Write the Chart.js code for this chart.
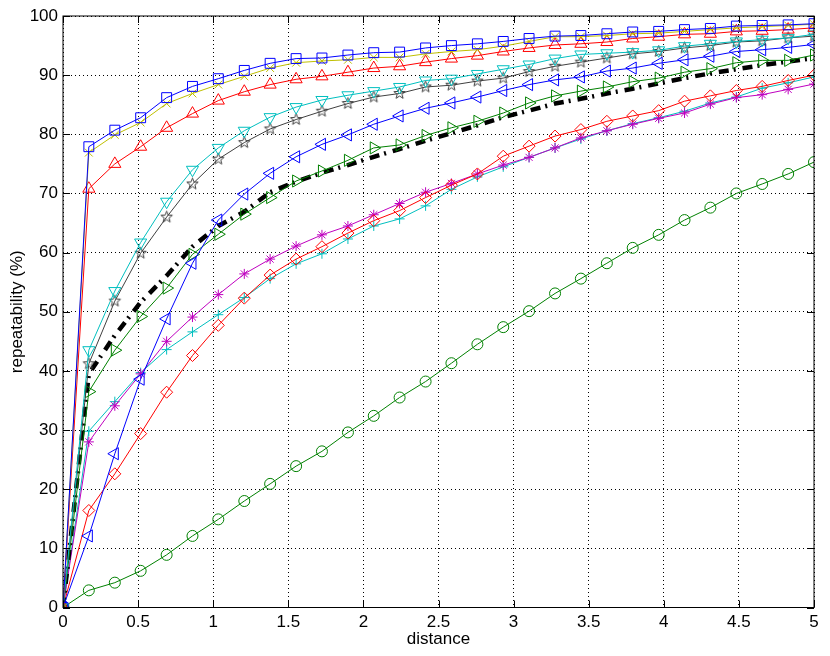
<!DOCTYPE html>
<html>
<head>
<meta charset="utf-8">
<script src="https://cdn.jsdelivr.net/npm/chart.js@4/dist/chart.umd.min.js"></script>
<style>
  html, body { margin: 0; padding: 0; background: #fff; }
  #wrap { width: 830px; height: 656px; }
</style>
</head>
<body>
<div id="wrap"><canvas id="chart" width="830" height="656"></canvas></div>
<script>
// sample positions along the x axis (distance)
const distances = [0, 0.172, 0.345, 0.517, 0.690, 0.862, 1.034, 1.207, 1.379, 1.552, 1.724, 1.897, 2.069, 2.241, 2.414,
  2.586, 2.759, 2.931, 3.103, 3.276, 3.448, 3.621, 3.793, 3.966, 4.138, 4.310, 4.483, 4.655, 4.828, 5.000];

// repeatability (%) per curve
const blueSquare = [0, 77.9, 80.7, 82.8, 86.2, 88.1, 89.4, 90.8, 92.0, 92.8, 92.9, 93.4, 93.8, 93.9, 94.6,
  95.0, 95.3, 95.7, 96.2, 96.6, 96.7, 97.0, 97.3, 97.4, 97.7, 97.9, 98.3, 98.4, 98.5, 98.7];
const yellowCross = [0, 76.9, 79.9, 82.0, 85.2, 86.9, 88.4, 89.8, 91.2, 92.1, 92.4, 92.6, 93.0, 93.0, 93.6,
  94.0, 94.3, 94.9, 95.7, 96.5, 96.5, 96.7, 97.0, 97.1, 97.4, 97.7, 98.0, 98.2, 98.4, 98.6];
const redUp = [0, 70.8, 75.0, 77.9, 81.1, 83.5, 85.7, 87.2, 88.4, 89.3, 89.8, 90.5, 91.2, 91.5, 92.2,
  92.8, 93.3, 94.0, 94.6, 95.1, 95.3, 95.6, 96.2, 96.5, 96.9, 97.0, 97.4, 97.5, 97.7, 98.0];
const cyanDown = [0, 43.5, 53.5, 61.7, 68.6, 74.0, 77.7, 80.6, 82.9, 84.6, 85.8, 86.6, 87.3, 88.0, 89.1,
  89.4, 90.2, 91.0, 91.8, 92.8, 93.5, 93.7, 93.9, 94.2, 94.9, 95.3, 95.7, 96.0, 96.3, 96.9];
const grayStar = [0, 41.2, 51.8, 59.9, 66.0, 71.6, 75.8, 78.6, 80.9, 82.5, 83.9, 85.2, 86.3, 86.9, 88.0,
  88.3, 89.0, 89.5, 90.6, 91.5, 92.2, 92.9, 93.6, 94.0, 94.6, 95.0, 95.6, 95.8, 96.3, 96.6];
const blueLeft = [0, 12.1, 26.0, 38.6, 48.8, 58.2, 65.5, 69.9, 73.4, 76.2, 78.3, 79.9, 81.7, 83.1, 84.4,
  85.3, 86.3, 87.4, 88.4, 89.2, 89.7, 90.7, 91.2, 92.0, 92.6, 93.2, 94.0, 94.3, 94.7, 95.2];
const greenRight = [0, 36.5, 43.5, 49.2, 54.0, 59.7, 63.1, 66.5, 69.3, 72.1, 73.8, 75.6, 77.7, 78.2, 79.8,
  81.1, 82.2, 83.6, 85.3, 86.5, 87.3, 88.0, 88.9, 89.5, 90.5, 91.1, 92.1, 92.5, 92.5, 93.4];
const blackDashDot = [0, 39.5, 46.0, 51.6, 56.1, 61.0, 64.5, 66.9, 70.2, 72.0, 73.5, 74.8, 76.2, 77.5, 78.9,
  80.2, 81.5, 82.9, 84.0, 85.2, 86.0, 86.9, 87.7, 88.6, 89.5, 90.3, 91.0, 91.7, 92.3, 92.9];
const redDiamond = [0, 16.4, 22.6, 29.4, 36.4, 42.6, 47.7, 52.3, 56.2, 58.9, 61.0, 63.3, 65.4, 67.1, 69.3,
  71.4, 73.3, 76.3, 78.0, 79.7, 80.8, 82.2, 83.1, 84.0, 85.6, 86.5, 87.4, 88.1, 89.1, 90.0];
const magentaAsterisk = [0, 28.0, 34.1, 39.5, 45.0, 49.1, 52.9, 56.4, 58.9, 61.1, 63.0, 64.5, 66.4, 68.3, 70.2,
  71.7, 73.3, 74.8, 76.1, 77.7, 79.4, 80.6, 81.7, 82.7, 83.6, 85.1, 86.2, 86.7, 87.6, 88.5];
const cyanPlus = [0, 29.8, 34.8, 39.7, 43.6, 46.6, 49.5, 52.4, 55.6, 58.1, 59.8, 62.3, 64.5, 65.7, 67.9,
  70.7, 72.8, 74.5, 76.1, 77.7, 79.2, 80.6, 81.8, 82.8, 83.9, 85.3, 86.3, 87.8, 88.7, 89.7];
const greenCircle = [0, 2.9, 4.2, 6.2, 8.9, 12.1, 14.9, 18.0, 20.9, 23.9, 26.4, 29.6, 32.4, 35.5, 38.2,
  41.3, 44.5, 47.4, 50.1, 53.1, 55.6, 58.2, 60.8, 63.0, 65.5, 67.6, 70.0, 71.6, 73.3, 75.3];

const xTicks = [0, 0.5, 1, 1.5, 2, 2.5, 3, 3.5, 4, 4.5, 5];
const yTicks = [0, 10, 20, 30, 40, 50, 60, 70, 80, 90, 100];

// pentagram marker (no built-in point style for it)
function makePentagram(color, r) {
  const c = document.createElement('canvas');
  const size = Math.ceil(r * 2 + 3);
  c.width = size; c.height = size;
  const g = c.getContext('2d');
  const cx = size / 2, cy = size / 2;
  g.beginPath();
  for (let i = 0; i < 10; i++) {
    const rad = i % 2 === 0 ? r : r * 0.42;
    const a = -Math.PI / 2 + i * Math.PI / 5;
    const px = cx + rad * Math.cos(a), py = cy + rad * Math.sin(a);
    if (i === 0) g.moveTo(px, py); else g.lineTo(px, py);
  }
  g.closePath();
  g.strokeStyle = color;
  g.lineWidth = 1;
  g.stroke();
  return c;
}

const toPoints = (ys) => ys.map((y, i) => ({ x: distances[i], y }));

function series(data, color, style, extra) {
  return Object.assign({
    data: toPoints(data),
    borderColor: color,
    backgroundColor: 'rgba(0,0,0,0)',
    pointBorderColor: color,
    pointBackgroundColor: 'rgba(0,0,0,0)',
    borderWidth: 1,
    pointBorderWidth: 1,
    pointStyle: style,
    pointRadius: 5,
    tension: 0,
    fill: false,
  }, extra || {});
}

// box with inward tick marks, like the original axes
const axesBox = {
  id: 'axesBox',
  afterDatasetsDraw(chart) {
    const { ctx, chartArea: a, scales } = chart;
    ctx.save();
    ctx.strokeStyle = '#000';
    ctx.lineWidth = 1;
    ctx.strokeRect(a.left, a.top, a.right - a.left, a.bottom - a.top);
    const len = 7;
    ctx.beginPath();
    xTicks.forEach((t) => {
      const px = Math.round(scales.x.getPixelForValue(t)) + 0.5;
      ctx.moveTo(px, a.bottom); ctx.lineTo(px, a.bottom - len);
      ctx.moveTo(px, a.top); ctx.lineTo(px, a.top + len);
    });
    yTicks.forEach((t) => {
      const py = Math.round(scales.y.getPixelForValue(t)) + 0.5;
      ctx.moveTo(a.left, py); ctx.lineTo(a.left + len, py);
      ctx.moveTo(a.right, py); ctx.lineTo(a.right - len, py);
    });
    ctx.stroke();
    ctx.restore();
  },
};

Chart.defaults.font.family = '"Liberation Sans", Arial, Helvetica, sans-serif';
Chart.defaults.font.size = 17;
Chart.defaults.color = '#000';

const gridStyle = {
  color: '#000',
  lineWidth: 1,
  drawTicks: false,
};

new Chart(document.getElementById('chart').getContext('2d'), {
  type: 'line',
  data: {
    datasets: [
      series(blueSquare, '#0000ff', 'rect', { pointRadius: 7 }),
      series(yellowCross, '#bfbf00', 'crossRot', { pointRadius: 5.5 }),
      series(redUp, '#ff0000', 'triangle', { pointRadius: 7 }),
      series(cyanDown, '#00bfbf', 'triangle', { pointRadius: 7, pointRotation: 180 }),
      series(grayStar, '#404040', makePentagram('#404040', 6)),
      series(blueLeft, '#0000ff', 'triangle', { pointRadius: 7, pointRotation: 270 }),
      series(greenRight, '#008000', 'triangle', { pointRadius: 7, pointRotation: 90 }),
      series(blackDashDot, '#000000', 'circle', { pointRadius: 0, borderWidth: 4.5, borderDash: [10, 5, 2, 7] }),
      series(redDiamond, '#ff0000', 'rectRot', { pointRadius: 6 }),
      series(magentaAsterisk, '#bf00bf', 'star', { pointRadius: 5 }),
      series(cyanPlus, '#00bfbf', 'cross', { pointRadius: 5 }),
      series(greenCircle, '#008000', 'circle', { pointRadius: 5.5 }),
    ],
  },
  options: {
    responsive: false,
    animation: false,
    events: [],
    layout: { padding: { left: 0, right: 16, top: 16, bottom: 0 } },
    plugins: { legend: { display: false }, tooltip: { enabled: false } },
    scales: {
      x: {
        type: 'linear',
        min: 0,
        max: 5,
        afterFit: (scale) => { scale.height = 48.5; },
        afterBuildTicks: (scale) => { scale.ticks = xTicks.map((v) => ({ value: v })); },
        ticks: { callback: (v) => String(v), padding: 5, maxRotation: 0, autoSkip: false },
        grid: Object.assign({}, gridStyle),
        border: { display: false, dash: [1, 3] },
        title: { display: true, text: 'distance', padding: { top: 0, bottom: 6 } },
      },
      y: {
        type: 'linear',
        min: 0,
        max: 100,
        afterFit: (scale) => { scale.width = 63; },
        afterBuildTicks: (scale) => { scale.ticks = yTicks.map((v) => ({ value: v })); },
        ticks: { callback: (v) => String(v), padding: 5, autoSkip: false },
        grid: Object.assign({}, gridStyle),
        border: { display: false, dash: [1, 3] },
        title: { display: true, text: 'repeatability (%)', padding: { top: 7, bottom: 0 } },
      },
    },
  },
  plugins: [axesBox],
});
</script>
</body>
</html>
